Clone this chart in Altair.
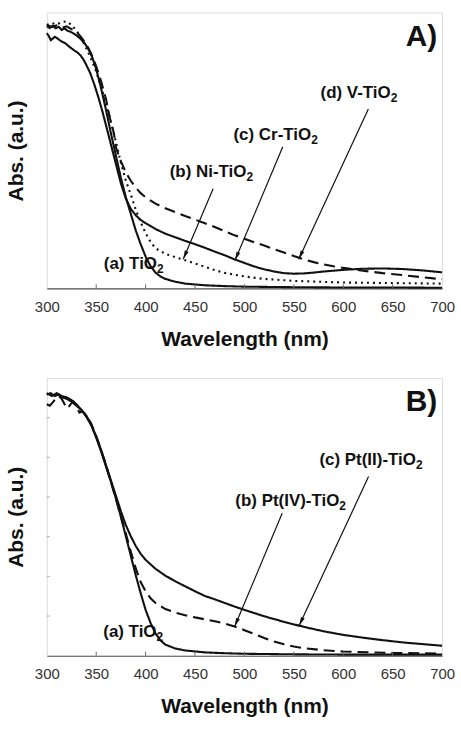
import altair as alt
import numpy as np
import pandas as pd

FONT = "Liberation Sans"
INK = "#111111"
W = 397
H_A = 277
H_B = 279

# ---------------- Panel A: transition-metal doped TiO2 ----------------
a_tio2_wl = [300, 303, 306, 309, 312, 315, 318, 321, 324, 327, 330, 334, 338, 342, 346, 350,
             355, 360, 365, 370, 375, 380, 385, 390, 395, 400, 405, 410, 415, 420, 430, 440,
             460, 480, 500, 550, 600, 650, 700]
a_tio2_abs = [0.950, 0.944, 0.952, 0.943, 0.948, 0.937, 0.942, 0.934, 0.930, 0.924, 0.917,
              0.905, 0.890, 0.868, 0.838, 0.795, 0.725, 0.645, 0.560, 0.480, 0.400, 0.330,
              0.270, 0.210, 0.160, 0.115, 0.080, 0.057, 0.043, 0.034, 0.024, 0.017, 0.011,
              0.008, 0.006, 0.004, 0.003, 0.003, 0.002]

a_ni_wl = [300, 305, 310, 315, 320, 325, 330, 335, 340, 345, 350, 355, 360, 365, 370, 375, 380,
           385, 390, 395, 400, 405, 410, 420, 430, 440, 450, 460, 470, 480, 500, 520, 550, 600,
           650, 700]
a_ni_abs = [0.955, 0.962, 0.957, 0.965, 0.968, 0.955, 0.935, 0.905, 0.870, 0.830, 0.785, 0.730,
            0.670, 0.600, 0.530, 0.455, 0.390, 0.340, 0.285, 0.240, 0.200, 0.168, 0.145, 0.125,
            0.113, 0.102, 0.090, 0.078, 0.066, 0.056, 0.043, 0.034, 0.027, 0.021, 0.019, 0.017]

a_cr_wl = [300, 302, 304, 306, 308, 310, 313, 316, 319, 322, 325, 328, 331, 334, 337, 340, 344,
           348, 352, 356, 360, 365, 370, 375, 380, 385, 390, 395, 400, 410, 420, 430, 440, 450,
           460, 470, 480, 490, 500, 510, 520, 530, 540, 550, 560, 570, 580, 600, 620, 640, 660,
           680, 700]
a_cr_abs = [0.925, 0.915, 0.900, 0.905, 0.912, 0.908, 0.900, 0.893, 0.888, 0.878, 0.870, 0.862,
            0.855, 0.845, 0.830, 0.810, 0.780, 0.740, 0.695, 0.645, 0.590, 0.520, 0.450, 0.380,
            0.325, 0.288, 0.265, 0.248, 0.236, 0.215, 0.198, 0.185, 0.172, 0.160, 0.147, 0.133,
            0.120, 0.105, 0.092, 0.079, 0.069, 0.061, 0.055, 0.053, 0.054, 0.057, 0.061, 0.067,
            0.071, 0.072, 0.070, 0.065, 0.058]

a_v_wl = [300, 305, 310, 315, 320, 325, 330, 335, 340, 345, 350, 355, 360, 364, 366, 368, 370,
          375, 380, 385, 390, 395, 400, 410, 420, 430, 440, 450, 460, 470, 480, 490, 500, 510,
          520, 530, 540, 550, 560, 570, 580, 590, 600, 620, 640, 660, 680, 700]
a_v_abs = [0.955, 0.948, 0.953, 0.945, 0.950, 0.940, 0.930, 0.910, 0.885, 0.850, 0.805, 0.750,
           0.685, 0.615, 0.590, 0.560, 0.510, 0.460, 0.420, 0.390, 0.365, 0.345, 0.330, 0.307,
           0.290, 0.276, 0.262, 0.249, 0.236, 0.222, 0.207, 0.192, 0.180, 0.167, 0.155, 0.142,
           0.130, 0.117, 0.105, 0.095, 0.087, 0.080, 0.074, 0.064, 0.055, 0.048, 0.040, 0.033]

# ---------------- Panel B: Pt-doped TiO2 ----------------
b_tio2_wl = [300, 304, 308, 312, 316, 320, 325, 330, 335, 340, 345, 350, 355, 360, 365, 370,
             375, 380, 385, 390, 395, 400, 405, 410, 415, 420, 430, 440, 460, 480, 500, 550,
             600, 650, 700]
b_tio2_abs = [0.940, 0.945, 0.935, 0.940, 0.930, 0.925, 0.915, 0.900, 0.885, 0.865, 0.830,
              0.785, 0.735, 0.680, 0.625, 0.565, 0.500, 0.430, 0.360, 0.290, 0.225, 0.165,
              0.118, 0.080, 0.055, 0.040, 0.026, 0.019, 0.012, 0.009, 0.007, 0.005, 0.004,
              0.004, 0.004]

b_pt4_wl = [300, 303, 306, 309, 312, 315, 318, 321, 324, 327, 330, 333, 336, 340, 345, 350, 355,
            360, 365, 370, 375, 380, 385, 390, 395, 400, 405, 410, 420, 430, 440, 450, 460, 470,
            480, 490, 500, 510, 520, 530, 540, 550, 560, 580, 600, 650, 700]
b_pt4_abs = [0.905, 0.900, 0.912, 0.925, 0.935, 0.925, 0.905, 0.890, 0.905, 0.915, 0.900,
             0.875, 0.880, 0.865, 0.835, 0.790, 0.740, 0.685, 0.625, 0.565, 0.500, 0.440,
             0.375, 0.315, 0.265, 0.232, 0.207, 0.190, 0.168, 0.155, 0.146, 0.138, 0.131,
             0.124, 0.116, 0.105, 0.092, 0.078, 0.064, 0.051, 0.041, 0.033, 0.027, 0.020,
             0.015, 0.010, 0.008]

b_pt2_wl = [300, 305, 310, 315, 320, 325, 330, 335, 340, 345, 350, 355, 360, 365, 370, 375, 380,
            385, 390, 395, 400, 410, 420, 430, 440, 450, 460, 470, 480, 490, 500, 520, 540, 560,
            580, 600, 620, 640, 660, 680, 700]
b_pt2_abs = [0.945, 0.935, 0.945, 0.935, 0.930, 0.920, 0.905, 0.885, 0.860, 0.830, 0.790, 0.740,
             0.685, 0.630, 0.575, 0.520, 0.470, 0.430, 0.395, 0.367, 0.345, 0.313, 0.288, 0.268,
             0.250, 0.232, 0.215, 0.203, 0.190, 0.177, 0.165, 0.142, 0.122, 0.104, 0.088, 0.075,
             0.065, 0.056, 0.048, 0.042, 0.036]

# Annotation text (label, subscript) with their anchor points in data units
a_labels = ["(a) TiO", "(b) Ni-TiO", "(c) Cr-TiO", "(d) V-TiO"]
a_label_wl = [411.5, 502.0, 567.5, 648.0]
a_label_abs = [0.070, 0.402, 0.539, 0.690]
b_labels = ["(a) TiO", "(b) Pt(IV)-TiO", "(c) Pt(II)-TiO"]
b_label_wl = [411.0, 596.0, 673.5]
b_label_abs = [0.069, 0.538, 0.687]

# Arrows: tail -> head, in data units
a_arrow_from = [(468.3, 0.361), (538.8, 0.513), (625.4, 0.650)]
a_arrow_to = [(438.0, 0.105), (490.4, 0.101), (554.9, 0.105)]
b_arrow_from = [(538.2, 0.513), (625.6, 0.645)]
b_arrow_to = [(490.0, 0.104), (555.3, 0.1075)]

x_ticks = [300, 350, 400, 450, 500, 550, 600, 650, 700]
b_y_ticks = [1 / 7, 2 / 7, 3 / 7, 4 / 7, 5 / 7, 6 / 7]

DASHES = {"solid": [1, 0], "dashed": [11, 6], "dotted": [2, 4]}


def curves_frame(series):
    rows = []
    for name, style, wl, ab in series:
        for w, a in zip(wl, ab):
            rows.append({"series": name, "style": style, "wl": w, "A": a})
    return pd.DataFrame(rows)


def arrow_frame(tails, heads, height):
    rows = []
    for (x0, y0), (x1, y1) in zip(tails, heads):
        dx = (x1 - x0) * W / 400.0
        dy = -(y1 - y0) * height
        ang = float(np.degrees(np.arctan2(dx, -dy)) % 360)
        rows.append({"wl": x0, "A": y0, "wl2": x1, "A2": y1, "ang": ang})
    return pd.DataFrame(rows)


def panel(series, labels, lab_wl, lab_abs, tails, heads, tag, height, y_ticks=None):
    xs = alt.Scale(domain=[300, 700], nice=False, zero=False)
    ys = alt.Scale(domain=[0, 1], nice=False, zero=False)
    x_axis = alt.Axis(values=x_ticks, ticks=False, grid=False, labelFont=FONT,
                      labelFontSize=15, labelColor="#333333", labelPadding=11,
                      labelFlush=False, labelOverlap=False,
                      domainColor="#555555", domainWidth=1.2,
                      titleFont=FONT, titleFontSize=21, titleFontWeight="bold",
                      titleColor=INK, titlePadding=14)
    y_axis = alt.Axis(labels=False, ticks=False, grid=False, domain=False,
                      titleFont=FONT, titleFontSize=21, titleFontWeight="bold",
                      titleColor=INK, titlePadding=20)

    def X(field="wl"):
        return alt.X(f"{field}:Q", scale=xs, axis=x_axis, title="Wavelength (nm)")

    def Y(field="A"):
        return alt.Y(f"{field}:Q", scale=ys, axis=y_axis, title="Abs. (a.u.)")

    df = curves_frame(series)
    lines = alt.Chart(df).mark_line(color=INK, strokeWidth=2.1).encode(
        x=X(),
        y=Y(),
        detail="series:N",
        strokeDash=alt.StrokeDash("style:N", legend=None,
                                  scale=alt.Scale(domain=list(DASHES.keys()),
                                                  range=list(DASHES.values()))),
    )

    ticks_df = pd.DataFrame({"wl": x_ticks[1:-1]})
    xt = alt.Chart(ticks_df).mark_rule(color="#666666", strokeWidth=1).encode(
        x=X(), y=alt.value(height), y2=alt.value(height - 4))
    layers = [lines, xt]

    if y_ticks:
        yt = alt.Chart(pd.DataFrame({"A": y_ticks})).mark_rule(
            color="#aaaaaa", strokeWidth=1).encode(
            y=Y(), x=alt.value(0), x2=alt.value(3))
        layers.append(yt)

    lab_df = pd.DataFrame({"wl": lab_wl, "A": lab_abs, "label": labels,
                           "sub": ["2"] * len(labels)})
    main_txt = alt.Chart(lab_df).mark_text(
        align="right", baseline="alphabetic", font=FONT, fontSize=17,
        fontWeight="bold", color=INK).encode(x=X(), y=Y(), text="label:N")
    sub_txt = alt.Chart(lab_df).mark_text(
        align="left", baseline="alphabetic", dy=4, font=FONT, fontSize=12,
        fontWeight="bold", color=INK).encode(x=X(), y=Y(), text="sub:N")
    layers += [main_txt, sub_txt]

    arr = arrow_frame(tails, heads, height)
    shafts = alt.Chart(arr).mark_rule(color=INK, strokeWidth=1.2).encode(
        x=X(), y=Y(), x2="wl2:Q", y2="A2:Q")
    heads_m = alt.Chart(arr).mark_point(
        shape="M0,0L-0.45,2L0.45,2Z", filled=True, opacity=1, size=81,
        color=INK, strokeWidth=0).encode(
        x=X("wl2"), y=Y("A2"), angle=alt.Angle("ang:Q", scale=None))
    layers += [shafts, heads_m]

    tag_df = pd.DataFrame({"wl": [695.0], "A": [0.880], "tag": [tag]})
    tag_txt = alt.Chart(tag_df).mark_text(
        align="right", baseline="alphabetic", font=FONT, fontSize=30,
        fontWeight="bold", color=INK).encode(x=X(), y=Y(), text="tag:N")
    layers.append(tag_txt)

    return alt.layer(*layers).properties(width=W, height=height)


top = panel([("a", "solid", a_tio2_wl, a_tio2_abs),
             ("b", "dotted", a_ni_wl, a_ni_abs),
             ("c", "solid", a_cr_wl, a_cr_abs),
             ("d", "dashed", a_v_wl, a_v_abs)],
            a_labels, a_label_wl, a_label_abs, a_arrow_from, a_arrow_to, "A)", H_A)

bottom = panel([("a", "solid", b_tio2_wl, b_tio2_abs),
                ("b", "dashed", b_pt4_wl, b_pt4_abs),
                ("c", "solid", b_pt2_wl, b_pt2_abs)],
               b_labels, b_label_wl, b_label_abs, b_arrow_from, b_arrow_to, "B)", H_B,
               y_ticks=b_y_ticks)

chart = alt.vconcat(top, bottom, spacing=27).properties(
    padding={"left": 5, "top": 10, "right": 5, "bottom": 5}
).configure_view(stroke="#8a8a8a", strokeWidth=1.3).configure(background="white")

chart.save("out.html", embed_options={"renderer": "svg", "actions": False})
